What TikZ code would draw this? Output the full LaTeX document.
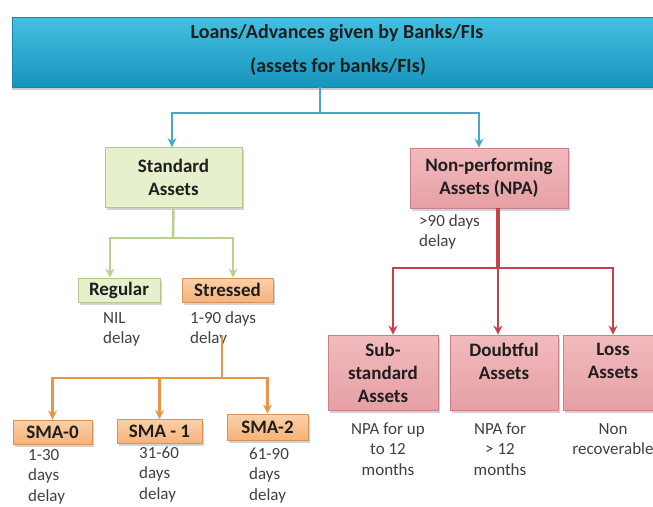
\documentclass[tikz,border=0pt]{standalone}
\usepackage{fontspec}
\setmainfont{Carlito}
\usetikzlibrary{arrows.meta,shadows,calc}
\definecolor{cyanT}{HTML}{45C0E2}
\definecolor{cyanB}{HTML}{1794BC}
\definecolor{cyanE}{HTML}{1A86A8}
\definecolor{blueL}{HTML}{4AA6CE}
\definecolor{greenF}{HTML}{E6F0CD}
\definecolor{greenE}{HTML}{B3C98A}
\definecolor{greenL}{HTML}{B8D28E}
\definecolor{orangeT}{HTML}{FBD0A8}
\definecolor{orangeB}{HTML}{F6B27A}
\definecolor{orangeE}{HTML}{D9925A}
\definecolor{orangeL}{HTML}{E99548}
\definecolor{pinkT}{HTML}{F2BABD}
\definecolor{pinkB}{HTML}{E5A0A5}
\definecolor{pinkE}{HTML}{C98086}
\definecolor{redL}{HTML}{C3424C}
\definecolor{txt}{HTML}{1E1E1E}
\definecolor{stxt}{HTML}{404040}
\tikzset{
  x=1pt, y=-1pt,
  boxbase/.style={rectangle, inner sep=0pt, align=center, text=txt,
    font=\fontsize{19}{23}\selectfont\bfseries,
    drop shadow={shadow xshift=2pt, shadow yshift=-2.5pt, opacity=0.35}},
  greenbox/.style={boxbase, fill=greenF, draw=greenE, line width=0.8pt},
  orangebox/.style={boxbase, top color=orangeT, bottom color=orangeB, draw=orangeE, line width=0.8pt},
  pinkbox/.style={boxbase, top color=pinkT, bottom color=pinkB, draw=pinkE, line width=0.8pt},
  small/.style={inner sep=0pt, text=stxt, font=\fontsize{17}{20.5}\selectfont},
  arr/.style={-{Stealth[length=9pt,width=9pt]}},
  bline/.style={draw=blueL, line width=2pt},
  gline/.style={draw=greenL, line width=2.4pt},
  oline/.style={draw=orangeL, line width=2.2pt},
  rline/.style={draw=redL, line width=2.2pt},
}
\begin{document}
\begin{tikzpicture}
\useasboundingbox (0,0) rectangle (653,506);
\fill[white] (0,0) rectangle (653,506);
% top box
\node[rectangle, inner sep=0pt, minimum width=650pt, minimum height=70pt,
  top color=cyanT, bottom color=cyanB, draw=cyanE, line width=0.6pt,
  drop shadow={shadow xshift=0pt, shadow yshift=-3pt, opacity=0.4}] (top) at (337,52) {};
\node[inner sep=0pt, text=txt, font=\fontsize{20}{24}\selectfont\bfseries] (t1) at (337,33) {Loans/Advances given by Banks/FIs};
\node[inner sep=0pt, text=txt, font=\fontsize{20}{24}\selectfont\bfseries] (t2) at (338,67) {(assets for banks/FIs)};
% level 2
\node[greenbox, minimum width=137pt, minimum height=60pt] (sa) at (173.5,177.5) {Standard\\Assets};
\node[pinkbox, minimum width=158pt, minimum height=60pt] (npa) at (489,178) {Non-performing\\Assets (NPA)};
\node[small, align=left, anchor=base west] (npad) at (419,246.5) {>90 days\\delay};
% blue connectors
\coordinate (bj) at (320,113);
\draw[bline] (top.south -| bj) -- (bj);
\draw[bline, arr] (bj) -| ([xshift=-1.5pt]sa.north);
\draw[bline, arr] (bj) -| ([xshift=-10pt]npa.north);
% level 3 left
\node[greenbox, minimum width=82pt, minimum height=24pt] (reg) at (119,290) {Regular};
\node[orangebox, minimum width=91pt, minimum height=24pt] (str) at (227.5,290) {Stressed};
\node[small, align=left, anchor=base west] (regd) at (103,343.5) {NIL\\delay};
\node[small, align=left, anchor=base west] (strd) at (190,343.5) {1-90 days\\delay};
\coordinate (gj) at (173,238);
\draw[gline] (sa.south) -- (gj);
\draw[gline, arr] (gj) -| ([xshift=-9pt]reg.north);
\draw[gline, arr] (gj) -| ([xshift=5.5pt]str.north);
% SMA
\node[orangebox, minimum width=79pt, minimum height=24pt] (s0) at (52.5,432) {SMA-0};
\node[orangebox, minimum width=85pt, minimum height=24pt] (s1) at (159.5,431.5) {SMA - 1};
\node[orangebox, minimum width=81pt, minimum height=26pt] (s2) at (267.5,427) {SMA-2};
\node[small, align=left, anchor=base west] (s0d) at (28,501) {1-30\\days\\delay};
\node[small, align=left, anchor=base west] (s1d) at (139,499) {31-60\\days\\delay};
\node[small, align=left, anchor=base west] (s2d) at (249,500) {61-90\\days\\delay};
\coordinate (os) at (222,335);
\coordinate (oj) at (222,378);
\draw[oline] (os) -- (oj);
\draw[oline, arr] (oj) -| (s0.north);
\draw[oline, arr] (oj) -| (s1.north);
\draw[oline, arr] (oj) -| (s2.north);
% NPA children
\node[pinkbox, minimum width=110pt, minimum height=75pt] (sub) at (383,372.5) {Sub-\\standard\\Assets};
\node[pinkbox, minimum width=108pt, minimum height=75pt] (dbt) at (504,372.5) {Doubtful\\Assets\\\mbox{}};
\node[pinkbox, minimum width=100pt, minimum height=75pt] (loss) at (613,372.5) {Loss\\Assets\\\mbox{}};
\node[small, align=center, anchor=base] (subd) at (388,475) {NPA for up\\to 12\\months};
\node[small, align=center, anchor=base] (dbtd) at (500,475) {NPA for\\> 12\\months};
\node[small, align=center, anchor=base] (lossd) at (613,454.5) {Non\\recoverable};
\coordinate (rj) at (498,268);
\draw[draw=redL, line width=4pt] ([xshift=9pt]npa.south) -- (rj);
\draw[rline, arr] (rj) -| ([xshift=10pt]sub.north);
\draw[rline, arr] (rj) -| ([xshift=-6pt]dbt.north);
\draw[rline, arr] (rj) -| (loss.north);
\end{tikzpicture}
\end{document}
